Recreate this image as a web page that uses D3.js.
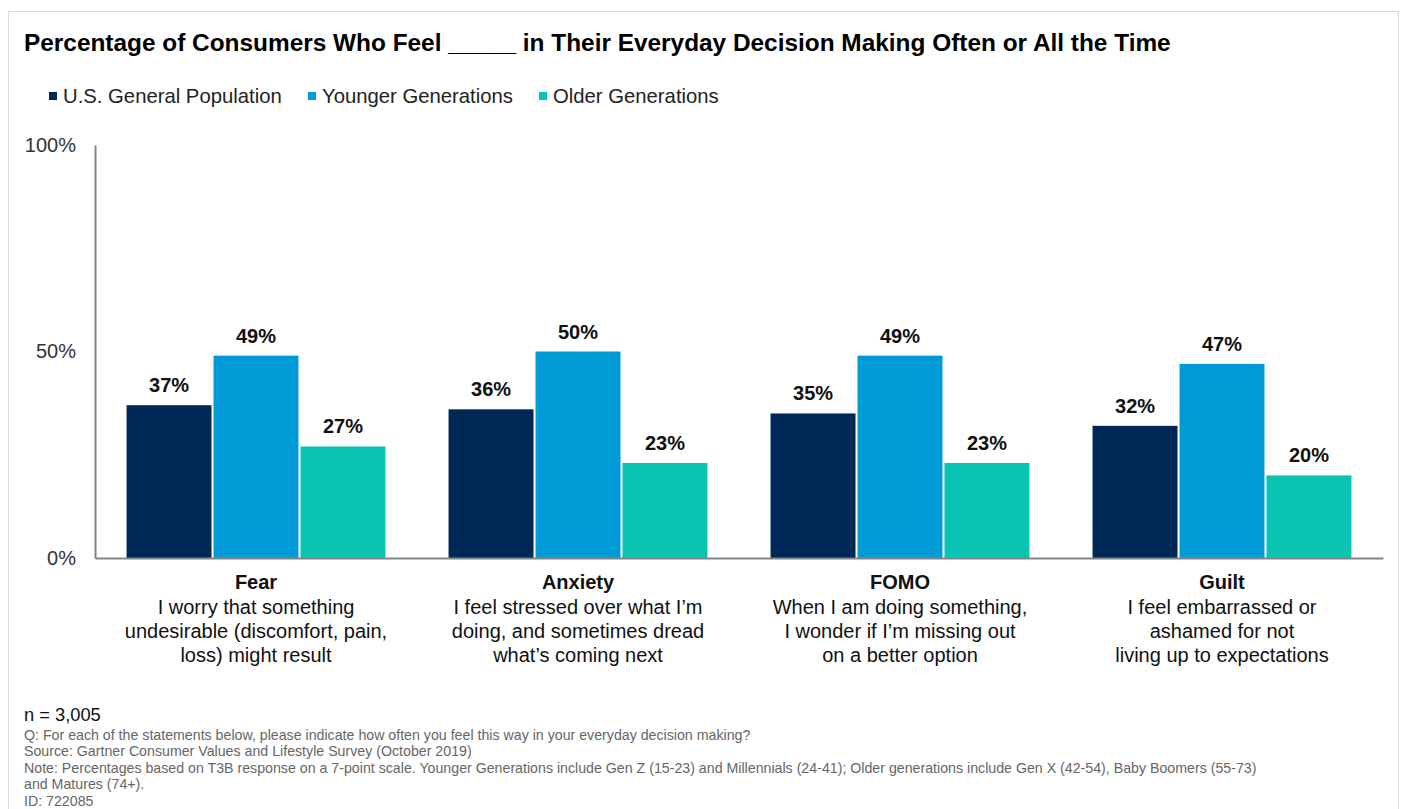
<!DOCTYPE html>
<html>
<head>
<meta charset="utf-8">
<script src="https://cdn.jsdelivr.net/npm/d3@7"></script>
<style>
  html, body { margin: 0; padding: 0; background: #fff; }
  svg { display: block; font-family: "Liberation Sans", Arial, sans-serif; }
</style>
</head>
<body>
<svg id="chart" width="1402" height="809"></svg>
<script>
// Survey data: share feeling each emotion "often or all the time"
const categories = ["Fear", "Anxiety", "FOMO", "Guilt"];
const descriptions = [
  ["I worry that something", "undesirable (discomfort, pain,", "loss) might result"],
  ["I feel stressed over what I\u2019m", "doing, and sometimes dread", "what\u2019s coming next"],
  ["When I am doing something,", "I wonder if I\u2019m missing out", "on a better option"],
  ["I feel embarrassed or", "ashamed for not", "living up to expectations"]
];
const seriesNames = ["U.S. General Population", "Younger Generations", "Older Generations"];
const generalPopulation = [37, 36, 35, 32];
const youngerGenerations = [49, 50, 49, 47];
const olderGenerations = [27, 23, 23, 20];
const seriesColors = ["#002856", "#009ad7", "#09c3b3"];
const yTicks = [0, 50, 100];

const titleText = "Percentage of Consumers Who Feel _____ in Their Everyday Decision Making Often or All the Time";
const footnotes = [
  "Q: For each of the statements below, please indicate how often you feel this way in your everyday decision making?",
  "Source: Gartner Consumer Values and Lifestyle Survey (October 2019)",
  "Note: Percentages based on T3B response on a 7-point scale. Younger Generations include Gen Z (15-23) and Millennials (24-41); Older generations include Gen X (42-54), Baby Boomers (55-73)",
  "and Matures (74+).",
  "ID: 722085"
];

const seriesValues = [generalPopulation, youngerGenerations, olderGenerations];
const rows = categories.map((c, i) => ({
  category: c,
  values: seriesValues.map((s, k) => ({ key: seriesNames[k], value: s[i], k }))
}));

const svg = d3.select("#chart");

// outer frame
svg.append("rect")
  .attr("x", 8.5).attr("y", 11.5)
  .attr("width", 1390).attr("height", 820)
  .attr("fill", "none").attr("stroke", "#d9d9d9").attr("stroke-width", 1);

// title
svg.append("text")
  .attr("x", 24).attr("y", 51)
  .attr("font-size", 24.4).attr("font-weight", "bold").attr("fill", "#000")
  .text(titleText);

// legend
const legendX = [49, 308, 539];
const legend = svg.append("g");
seriesNames.forEach((name, k) => {
  legend.append("rect")
    .attr("x", legendX[k]).attr("y", 92)
    .attr("width", 8).attr("height", 8)
    .attr("fill", seriesColors[k]);
  legend.append("text")
    .attr("x", legendX[k] + 14).attr("y", 103)
    .attr("font-size", 20.3).attr("fill", "#222")
    .text(name);
});

// plot area
const plot = { left: 95, right: 1383, top: 145, bottom: 558 };

const x0 = d3.scaleBand()
  .domain(categories)
  .range([plot.left, plot.right])
  .paddingInner(0.196)
  .paddingOuter(0.098);

const x1 = d3.scaleBand()
  .domain(seriesNames)
  .range([0, x0.bandwidth()])
  .paddingInner(0.023);

const y = d3.scaleLinear().domain([0, 100]).range([plot.bottom, plot.top]);
const color = d3.scaleOrdinal().domain(seriesNames).range(seriesColors);

// y axis
const yAxis = svg.append("g")
  .attr("transform", `translate(${plot.left},0)`)
  .call(d3.axisLeft(y).tickValues(yTicks).tickFormat(d => d + "%").tickSize(0).tickPadding(19));
yAxis.select(".domain").attr("stroke", "#7f8686").attr("stroke-width", 2);
yAxis.selectAll("text").attr("font-size", 20).attr("fill", "#333")
  .attr("font-family", "Liberation Sans, Arial, sans-serif");

// bars
const groups = svg.append("g").selectAll("g")
  .data(rows).join("g")
  .attr("transform", d => `translate(${x0(d.category)},0)`);

groups.selectAll("rect")
  .data(d => d.values).join("rect")
  .attr("x", d => x1(d.key))
  .attr("y", d => y(d.value))
  .attr("width", x1.bandwidth())
  .attr("height", d => y(0) - y(d.value))
  .attr("fill", d => color(d.key));

groups.selectAll("text.val")
  .data(d => d.values).join("text")
  .attr("class", "val")
  .attr("x", d => x1(d.key) + x1.bandwidth() / 2)
  .attr("y", d => y(d.value) - 13)
  .attr("text-anchor", "middle")
  .attr("font-size", 20).attr("font-weight", "bold").attr("fill", "#111")
  .text(d => d.value + "%");

// x axis baseline
const xAxis = svg.append("g")
  .attr("transform", `translate(0,${plot.bottom})`)
  .call(d3.axisBottom(x0).tickSize(0).tickFormat(""));
xAxis.select(".domain").attr("stroke", "#7f8686").attr("stroke-width", 2);

// category labels with descriptions
const catLabels = svg.append("g").selectAll("text")
  .data(categories).join("text")
  .attr("x", d => x0(d) + x0.bandwidth() / 2)
  .attr("text-anchor", "middle")
  .attr("font-size", 20).attr("fill", "#111");
catLabels.append("tspan")
  .attr("x", d => x0(d) + x0.bandwidth() / 2)
  .attr("y", 589)
  .attr("font-weight", "bold")
  .text(d => d);
catLabels.each(function (d, i) {
  const t = d3.select(this);
  descriptions[i].forEach((line, j) => {
    t.append("tspan")
      .attr("x", x0(d) + x0.bandwidth() / 2)
      .attr("y", 614 + j * 24)
      .text(line);
  });
});

// footer
svg.append("text")
  .attr("x", 24).attr("y", 721)
  .attr("font-size", 18.3).attr("fill", "#111")
  .text("n = 3,005");
svg.append("g").selectAll("text")
  .data(footnotes).join("text")
  .attr("x", 24)
  .attr("y", (d, i) => 740 + i * 16.4)
  .attr("font-size", 14.2).attr("fill", "#666")
  .text(d => d);
</script>
</body>
</html>
